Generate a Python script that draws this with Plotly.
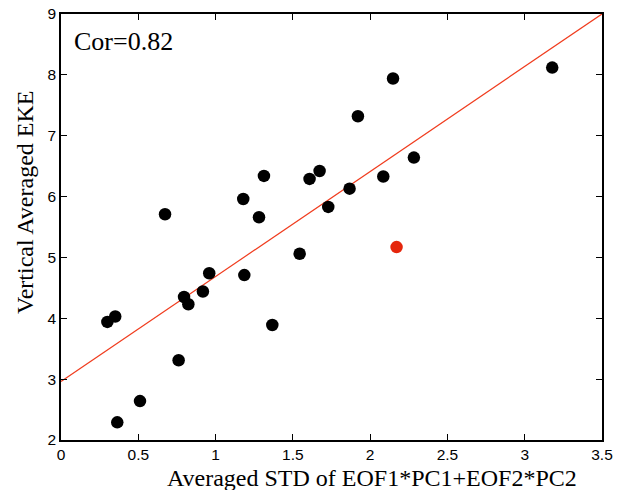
import plotly.graph_objects as go

x_black = [0.300, 0.351, 0.364, 0.511, 0.673, 0.761, 0.796, 0.824, 0.918, 0.959,
           1.179, 1.186, 1.281, 1.313, 1.367, 1.544, 1.608, 1.673, 1.729, 1.867,
           1.921, 2.085, 2.148, 2.283, 3.178]
y_black = [3.94, 4.03, 2.29, 2.64, 5.71, 3.31, 4.35, 4.23, 4.44, 4.74,
           5.96, 4.71, 5.66, 6.34, 3.89, 5.06, 6.29, 6.42, 5.83, 6.13,
           7.32, 6.33, 7.94, 6.64, 8.12]
x_red = [2.171]
y_red = [5.17]

fit_intercept = 2.96
fit_slope = 1.726
fit_x = [0, 3.5]
fit_y = [fit_intercept + fit_slope * v for v in fit_x]

x_ticks = [0, 0.5, 1, 1.5, 2, 2.5, 3, 3.5]
x_tick_labels = ["0", "0.5", "1", "1.5", "2", "2.5", "3", "3.5"]
y_ticks = [2, 3, 4, 5, 6, 7, 8, 9]
y_tick_labels = ["2", "3", "4", "5", "6", "7", "8", "9"]

fig = go.Figure()
fig.add_trace(go.Scatter(x=fit_x, y=fit_y, mode="lines",
                         line=dict(color="#f03c1e", width=1.2), showlegend=False,
                         cliponaxis=True))
fig.add_trace(go.Scatter(x=x_black, y=y_black, mode="markers",
                         marker=dict(color="black", size=12.5, line=dict(width=0)),
                         showlegend=False))
fig.add_trace(go.Scatter(x=x_red, y=y_red, mode="markers",
                         marker=dict(color="#e5260c", size=12.5, line=dict(width=0)),
                         showlegend=False))

axis_common = dict(showgrid=False, zeroline=False, showline=True, linecolor="black",
                   linewidth=1.5, mirror="ticks", ticks="inside", ticklen=6,
                   tickcolor="black", tickwidth=1, automargin=False,
                   tickfont=dict(family="Liberation Sans, Arial", size=15.5, color="black"))

fig.update_xaxes(range=[0, 3.5], tickvals=x_ticks, ticktext=x_tick_labels, **axis_common)
fig.update_yaxes(range=[2, 9], tickvals=y_ticks, ticktext=y_tick_labels, **axis_common)

title_font = dict(family="Liberation Serif, Times New Roman", size=24, color="black")
fig.add_annotation(text="Averaged STD of EOF1*PC1+EOF2*PC2", xref="paper", yref="paper",
                   x=(372 - 61) / 541, y=-(478 - 440) / 426, xanchor="center", yanchor="middle",
                   showarrow=False, font=title_font)
fig.add_annotation(text="Vertical Averaged EKE", xref="paper", yref="paper",
                   x=-(61 - 25) / 541, y=(440 - 203) / 426, xanchor="center", yanchor="middle",
                   textangle=-90, showarrow=False, font=title_font)
fig.add_annotation(text="Cor=0.82", xref="paper", yref="paper", x=(72 - 61) / 541,
                   y=(440 - 42) / 426, xanchor="left", yanchor="middle", showarrow=False,
                   font=dict(family="Liberation Serif, Times New Roman", size=26, color="black"))

fig.update_layout(width=621, height=490, margin=dict(l=61, r=19, t=14, b=50, autoexpand=False),
                  plot_bgcolor="white", paper_bgcolor="white")

fig.write_html("out.html")
